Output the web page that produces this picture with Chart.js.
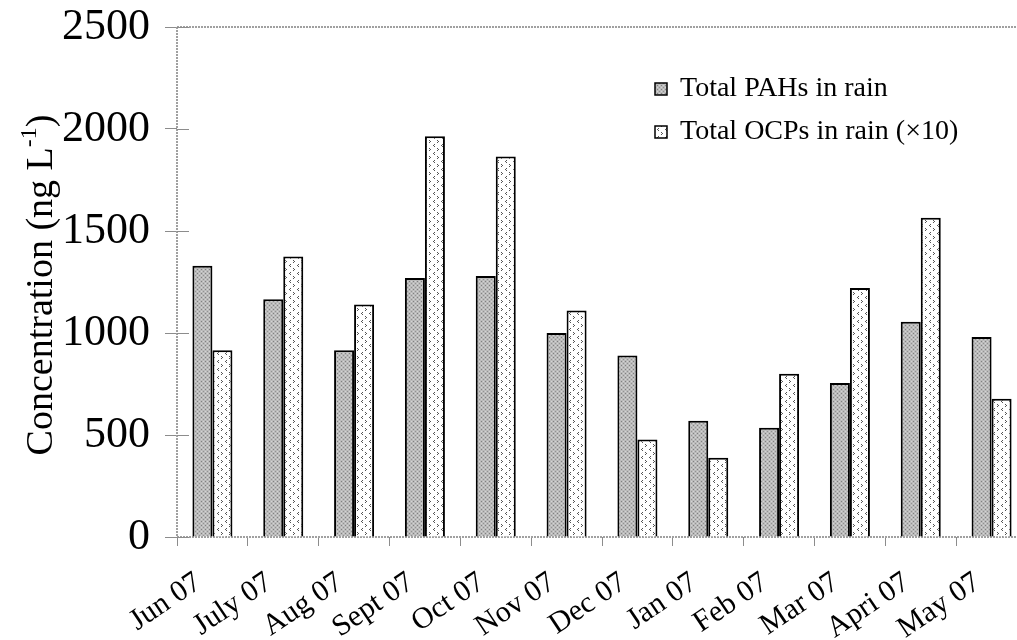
<!DOCTYPE html>
<html>
<head>
<meta charset="utf-8">
<script src="https://cdn.jsdelivr.net/npm/chart.js@4.4.1/dist/chart.umd.min.js"></script>
<style>
  html, body { margin: 0; padding: 0; overflow: hidden; background: #fff; }
  #wrap { width: 1040px; height: 640px; }
</style>
</head>
<body>
<div id="wrap"><canvas id="rainChart"></canvas></div>
<script>
// monthly totals, ng/L (OCPs already multiplied by 10)
var months = ["Jun 07", "July 07", "Aug 07", "Sept 07", "Oct 07", "Nov 07",
              "Dec 07", "Jan 07", "Feb 07", "Mar 07", "Apri 07", "May 07"];
var pahValues = [1330, 1165, 915, 1270, 1280, 1000, 890, 570, 535, 755, 1055, 980];
var ocpValues = [915, 1375, 1140, 1965, 1865, 1110, 478, 388, 800, 1220, 1565, 678];
var yTicks = [0, 500, 1000, 1500, 2000, 2500];
var seriesNames = ["Total PAHs in rain", "Total OCPs in rain (\u00d710)"];

var serif = "'Liberation Serif', 'Times New Roman', serif";
var axisGray = "#8c8c8c";

// small tiled fills for the bars
function makePattern(w, h, base, marks) {
  var c = document.createElement("canvas");
  c.width = w; c.height = h;
  var g = c.getContext("2d");
  g.fillStyle = base;
  g.fillRect(0, 0, w, h);
  marks.forEach(function (m) {
    g.fillStyle = m[2];
    g.fillRect(m[0], m[1], 1, 1);
  });
  return g.createPattern(c, "repeat");
}

var pahFill = makePattern(4, 4, "#bababa", [
  [1, 1, "#808080"], [3, 3, "#929292"], [3, 1, "#d4d4d4"], [1, 3, "#d4d4d4"]
]);
var ocpFill = makePattern(8, 8, "#ffffff", [
  [2, 0, "#555"], [1, 1, "#555"], [2, 2, "#555"],
  [5, 4, "#555"], [6, 5, "#555"], [5, 6, "#555"]
]);

var framePlugin = {
  id: "frame",
  beforeDatasetsDraw: function (chart) {
    var ctx = chart.ctx, a = chart.chartArea;
    var y = chart.scales.y;
    ctx.save();
    ctx.strokeStyle = "#a0a0a0";
    ctx.lineWidth = 2;
    ctx.setLineDash([2, 1]);
    ctx.beginPath();
    ctx.moveTo(a.left, a.top); ctx.lineTo(a.right, a.top);
    ctx.moveTo(a.left, a.top); ctx.lineTo(a.left, a.bottom);
    ctx.moveTo(a.left, a.bottom); ctx.lineTo(a.right, a.bottom);
    ctx.stroke();
    // inner half of the y tick marks
    ctx.setLineDash([]);
    ctx.strokeStyle = axisGray;
    ctx.lineWidth = 1;
    yTicks.forEach(function (v) {
      var py = Math.round(y.getPixelForValue(v)) + 0.5;
      ctx.beginPath();
      ctx.moveTo(a.left, py); ctx.lineTo(a.left + 12, py);
      ctx.stroke();
    });
    ctx.restore();
  },
  afterDraw: function (chart) {
    var ctx = chart.ctx;
    ctx.save();
    // legend inside the plot
    ctx.font = "28px " + serif;
    ctx.textBaseline = "middle";
    chart.data.datasets.forEach(function (ds, i) {
      var ly = 89 + i * 43;
      ctx.fillStyle = ds.backgroundColor;
      ctx.fillRect(655, ly - 6, 12, 12);
      ctx.strokeStyle = "#000";
      ctx.lineWidth = 1.5;
      ctx.strokeRect(655, ly - 6, 12, 12);
      ctx.fillStyle = "#000";
      ctx.fillText(ds.label, 680, ly);
    });
    // y axis title with superscript
    ctx.translate(42, 285);
    ctx.rotate(-Math.PI / 2);
    var main = "Concentration (ng L", sup = "-1", close = ")";
    var big = "38px " + serif, small = "24px " + serif;
    ctx.font = big;
    var w1 = ctx.measureText(main).width, w3 = ctx.measureText(close).width;
    ctx.font = small;
    var w2 = ctx.measureText(sup).width;
    var x0 = -(w1 + w2 + w3) / 2;
    ctx.textBaseline = "middle";
    ctx.textAlign = "left";
    ctx.font = big;
    ctx.fillText(main, x0, 0);
    ctx.font = small;
    ctx.fillText(sup, x0 + w1, -12);
    ctx.font = big;
    ctx.fillText(close, x0 + w1 + w2, 0);
    ctx.restore();
  }
};

new Chart("rainChart", {
  type: "bar",
  data: {
    labels: months,
    datasets: [
      {
        label: seriesNames[0],
        data: pahValues,
        backgroundColor: pahFill,
        borderColor: "#000",
        borderWidth: 2
      },
      {
        label: seriesNames[1],
        data: ocpValues,
        backgroundColor: ocpFill,
        borderColor: "#000",
        borderWidth: 2
      }
    ]
  },
  options: {
    responsive: true,
    maintainAspectRatio: false,
    animation: false,
    layout: { padding: { top: 27, right: 13, left: 0, bottom: 0 } },
    datasets: {
      bar: { categoryPercentage: 0.565, barPercentage: 1.0 }
    },
    plugins: {
      legend: { display: false },
      tooltip: { enabled: false }
    },
    scales: {
      x: {
        afterFit: function (s) {
          s.height = 103;
          s.paddingLeft = 0; s.paddingRight = 0;
        },
        border: { display: false },
        grid: {
          offset: true,
          drawOnChartArea: false,
          tickLength: 9,
          tickColor: axisGray
        },
        ticks: {
          autoSkip: false,
          minRotation: 34,
          maxRotation: 34,
          padding: 19,
          labelOffset: -14,
          color: "#000",
          font: { family: serif, size: 30 }
        }
      },
      y: {
        min: 0,
        max: 2500,
        afterFit: function (s) {
          s.width = 177;
          s.paddingTop = 0; s.paddingBottom = 0;
        },
        afterBuildTicks: function (s) {
          s.ticks = yTicks.map(function (v) { return { value: v }; });
        },
        border: { display: false },
        grid: {
          drawOnChartArea: false,
          tickLength: 12,
          tickColor: axisGray
        },
        ticks: {
          padding: 15,
          color: "#000",
          font: { family: serif, size: 44 },
          callback: function (v) { return String(v); }
        }
      }
    }
  },
  plugins: [framePlugin]
});
</script>
</body>
</html>
